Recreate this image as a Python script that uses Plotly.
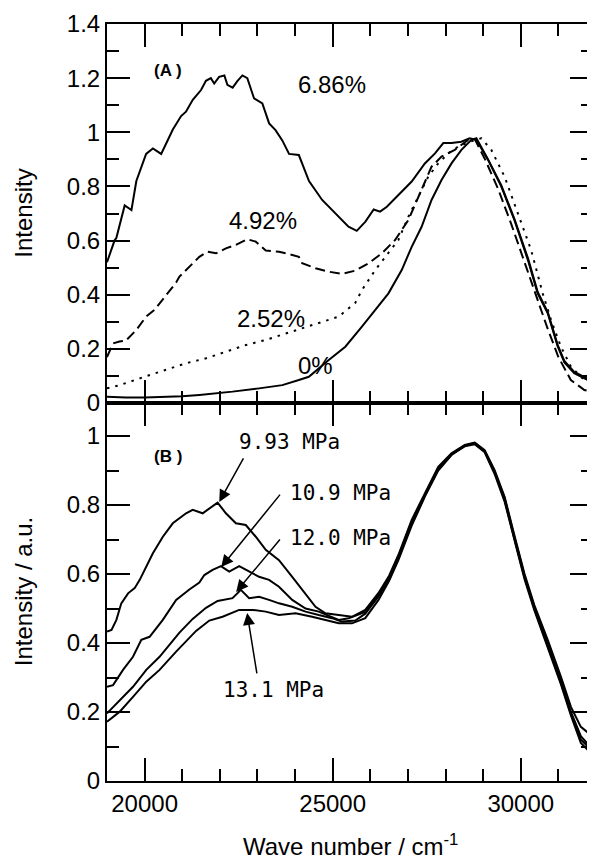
import plotly.graph_objects as go

# (A) concentration series, wave number in cm-1
x_686 = [19000, 19200, 19250, 19470, 19650, 19780, 20040, 20220, 20440, 20750, 20970, 21100, 21280, 21500,
         21630, 21760, 21850, 21980, 22120, 22200, 22340, 22470, 22600, 22730, 22910, 23130, 23310, 23480,
         23660, 23840, 24100, 24370, 24720, 25070, 25420, 25640, 25870, 26090, 26260, 26440, 26750, 27100,
         27450, 27720, 27940, 28160, 28420, 28640, 28820, 29130, 29480, 29830, 30190, 30450, 30720, 30980,
         31160, 31420, 31920]
y_686 = [0.52, 0.60, 0.61, 0.73, 0.713, 0.82, 0.92, 0.94, 0.92, 1.01, 1.06, 1.076, 1.12, 1.156,
         1.19, 1.2, 1.18, 1.205, 1.21, 1.175, 1.165, 1.19, 1.21, 1.2, 1.125, 1.107, 1.033, 1.008,
         0.97, 0.92, 0.916, 0.82, 0.75, 0.70, 0.651, 0.636, 0.67, 0.715, 0.707, 0.725, 0.768, 0.818,
         0.885, 0.922, 0.96, 0.96, 0.965, 0.978, 0.972, 0.898, 0.80, 0.676, 0.528, 0.405, 0.33, 0.21,
         0.15, 0.11, 0.075]

x_492 = [19000, 19160, 19330, 19500, 19780, 20040, 20265, 20573, 20838, 20926, 21190, 21455, 21675, 21897,
         22161, 22426, 22733, 22955, 23220, 23572, 23837, 24101, 24189, 24543, 24895, 25247, 25600, 25953,
         26306, 26658, 27012, 27364, 27628, 27893, 28246, 28600, 28776, 29050, 29400, 29750, 30100, 30400,
         30700, 31000, 31330, 31690, 31920]
y_492 = [0.17, 0.22, 0.227, 0.23, 0.27, 0.319, 0.344, 0.40, 0.445, 0.467, 0.504, 0.54, 0.559, 0.553,
         0.571, 0.584, 0.605, 0.596, 0.563, 0.559, 0.55, 0.54, 0.516, 0.498, 0.485, 0.477, 0.489, 0.516,
         0.553, 0.602, 0.676, 0.787, 0.873, 0.91, 0.935, 0.972, 0.975, 0.90, 0.79, 0.66, 0.52, 0.40,
         0.28, 0.17, 0.085, 0.048, 0.04]

x_252 = [19000, 19340, 20000, 20573, 21102, 21632, 22161, 22690, 23220, 23749, 24101, 24543, 25159, 25600,
         25777, 26130, 26482, 26746, 27012, 27276, 27540, 27805, 28069, 28334, 28644, 28951, 29216, 29570,
         29922, 30275, 30583, 30803, 31068, 31332, 31687, 31920]
y_252 = [0.054, 0.066, 0.097, 0.122, 0.147, 0.165, 0.19, 0.214, 0.233, 0.257, 0.272, 0.294, 0.319, 0.37,
         0.417, 0.491, 0.553, 0.602, 0.688, 0.762, 0.836, 0.885, 0.922, 0.947, 0.965, 0.978, 0.935, 0.836,
         0.70, 0.565, 0.405, 0.307, 0.208, 0.134, 0.085, 0.073]

x_0 = [19000, 19500, 20000, 20500, 21000, 21455, 21900, 22337, 23043, 23660, 24101, 24366, 24895, 25336,
       25777, 26130, 26482, 26835, 27100, 27364, 27628, 27893, 28158, 28422, 28687, 28820, 29130, 29480,
       29830, 30190, 30450, 30720, 30980, 31160, 31420, 31920]
y_0 = [0.023, 0.02, 0.02, 0.022, 0.025, 0.03, 0.035, 0.042, 0.054, 0.066, 0.085, 0.097, 0.159, 0.208,
       0.282, 0.344, 0.405, 0.491, 0.577, 0.651, 0.75, 0.824, 0.885, 0.935, 0.972, 0.978, 0.90, 0.805,
       0.68, 0.535, 0.41, 0.335, 0.215, 0.155, 0.115, 0.08]

# (B) pressure series
x_993 = [19000, 19120, 19250, 19380, 19560, 19735, 19870, 20040, 20220, 20485, 20749, 21102, 21278, 21543,
         21808, 21940, 22161, 22426, 22690, 22955, 23220, 23572, 23924, 24279, 24543, 24808, 25160, 25512,
         25866, 26218, 26500, 26746, 27100, 27453, 27805, 28158, 28510, 28776, 29040, 29305, 29570, 29835,
         30100, 30360, 30716, 31068, 31333, 31597, 31920]
y_993 = [0.433, 0.438, 0.467, 0.515, 0.544, 0.559, 0.583, 0.62, 0.66, 0.708, 0.747, 0.776, 0.786, 0.776,
         0.795, 0.807, 0.776, 0.747, 0.742, 0.708, 0.67, 0.64, 0.592, 0.544, 0.505, 0.486, 0.481, 0.476,
         0.496, 0.545, 0.595, 0.655, 0.757, 0.834, 0.911, 0.95, 0.974, 0.981, 0.959, 0.901, 0.824, 0.71,
         0.60, 0.51, 0.409, 0.302, 0.215, 0.157, 0.128]

x_109 = [19000, 19161, 19426, 19691, 19912, 20132, 20484, 20838, 21190, 21455, 21588, 21807, 22029, 22249,
         22514, 22778, 23043, 23308, 23572, 23924, 24279, 24630, 24895, 25160, 25424, 25866, 26218, 26500,
         26746, 27100, 27453, 27805, 28158, 28510, 28776, 29040, 29305, 29570, 29835, 30100, 30360, 30716,
         31068, 31333, 31597, 31920]
y_109 = [0.273, 0.278, 0.322, 0.36, 0.409, 0.418, 0.467, 0.525, 0.555, 0.575, 0.597, 0.612, 0.623, 0.607,
         0.623, 0.607, 0.592, 0.583, 0.563, 0.525, 0.50, 0.491, 0.478, 0.467, 0.472, 0.49, 0.54, 0.59,
         0.65, 0.75, 0.83, 0.905, 0.948, 0.972, 0.978, 0.955, 0.895, 0.815, 0.70, 0.59, 0.50, 0.395,
         0.285, 0.195, 0.12, 0.085]

x_120 = [19000, 19339, 19691, 20044, 20397, 20926, 21278, 21632, 21940, 22337, 22558, 22778, 23043, 23308,
         23572, 23924, 24279, 24630, 24983, 25247, 25600, 25866, 26218, 26500, 26746, 27100, 27453, 27805,
         28158, 28510, 28776, 29040, 29305, 29570, 29835, 30100, 30360, 30716, 31068, 31333, 31597, 31920]
y_120 = [0.196, 0.235, 0.273, 0.322, 0.36, 0.43, 0.47, 0.502, 0.522, 0.53, 0.554, 0.53, 0.534, 0.525,
         0.515, 0.505, 0.491, 0.481, 0.472, 0.462, 0.465, 0.485, 0.535, 0.585, 0.645, 0.745, 0.828, 0.903,
         0.946, 0.97, 0.976, 0.953, 0.89, 0.81, 0.695, 0.585, 0.495, 0.39, 0.28, 0.19, 0.11, 0.075]

x_131 = [19000, 19339, 19691, 20044, 20397, 20838, 21368, 21720, 22072, 22514, 22866, 23220, 23572, 24014,
         24453, 24808, 25160, 25512, 25866, 26218, 26500, 26746, 27100, 27453, 27805, 28158, 28510, 28776,
         29040, 29305, 29570, 29835, 30100, 30360, 30716, 31068, 31333, 31597, 31920]
y_131 = [0.172, 0.201, 0.244, 0.288, 0.322, 0.375, 0.435, 0.465, 0.476, 0.496, 0.496, 0.491, 0.481, 0.486,
         0.476, 0.467, 0.457, 0.457, 0.472, 0.525, 0.58, 0.64, 0.74, 0.825, 0.9, 0.945, 0.972, 0.98,
         0.957, 0.895, 0.82, 0.705, 0.595, 0.505, 0.40, 0.29, 0.2, 0.13, 0.09]

x_ticks = [20000, 25000, 30000]
x_ticktext = ["20000", "25000", "30000"]

FONT = "Liberation Sans, Arial, Helvetica, sans-serif"
MONO = "DejaVu Sans Mono, monospace"

fig = go.Figure()

line = dict(color="black", width=2)
# top panel: xaxis2 / yaxis2
fig.add_trace(go.Scatter(x=x_686, y=y_686, mode="lines", line=line, xaxis="x2", yaxis="y2"))
fig.add_trace(go.Scatter(x=x_492, y=y_492, mode="lines", line=dict(color="black", width=2, dash="10px,5px"),
                         xaxis="x2", yaxis="y2"))
fig.add_trace(go.Scatter(x=x_252, y=y_252, mode="lines", line=dict(color="black", width=2, dash="2.5px,6px"),
                         xaxis="x2", yaxis="y2"))
fig.add_trace(go.Scatter(x=x_0, y=y_0, mode="lines", line=line, xaxis="x2", yaxis="y2"))
# bottom panel: xaxis / yaxis
for xs, ys in [(x_993, y_993), (x_109, y_109), (x_120, y_120), (x_131, y_131)]:
    fig.add_trace(go.Scatter(x=xs, y=ys, mode="lines", line=line, xaxis="x", yaxis="y"))

# empty traces carrying the tick-only overlay axes (their mirrored ticks land on the left / bottom)
for xa, ya in [("x3", "y3"), ("x4", "y4"), ("x5", "y5"), ("x6", "y6")]:
    fig.add_trace(go.Scatter(x=[], y=[], xaxis=xa, yaxis=ya, hoverinfo="skip"))

split = 378 / 757
XR = [19000, 31920]
YR_TOP = [0, 1.4]
YR_BOT = [0, 1.0957]

main = dict(ticks="inside", ticklen=23, tickwidth=2, tickcolor="black", showline=True, linecolor="black",
            linewidth=2, mirror="ticks")


def tick_axis(rng, dtick, length, over, anchor, side, dom):
    return dict(range=rng, dtick=dtick, ticks="inside", ticklen=length, tickwidth=2, tickcolor="black",
                showline=False, mirror="ticks", showticklabels=False, overlaying=over, anchor=anchor,
                side=side, domain=dom)


fig.update_layout(
    template="simple_white",
    # bottom panel
    xaxis=dict(range=XR, tickmode="array", tickvals=x_ticks, ticktext=x_ticktext, anchor="y", domain=[0, 1],
               **main),
    yaxis=dict(range=YR_BOT, dtick=0.2, anchor="x", domain=[0, split], **main),
    # top panel
    xaxis2=dict(range=XR, dtick=5000, showticklabels=False, anchor="y2", domain=[0, 1], **main),
    yaxis2=dict(range=YR_TOP, dtick=0.2, anchor="x2", domain=[split, 1], **main),
    # tick-only overlays: major and minor
    xaxis3=tick_axis(XR, 5000, 23, "x2", "y2", "top", [0, 1]),
    yaxis3=tick_axis(YR_TOP, 0.2, 23, "y2", "x2", "right", [split, 1]),
    xaxis4=tick_axis(XR, 1000, 12, "x2", "y2", "top", [0, 1]),
    yaxis4=tick_axis(YR_TOP, 0.1, 12, "y2", "x2", "right", [split, 1]),
    xaxis5=tick_axis(XR, 5000, 23, "x", "y", "top", [0, 1]),
    yaxis5=tick_axis(YR_BOT, 0.2, 23, "y", "x", "right", [0, split]),
    xaxis6=tick_axis(XR, 1000, 12, "x", "y", "top", [0, 1]),
    yaxis6=tick_axis(YR_BOT, 0.1, 12, "y", "x", "right", [0, split]),
    # page body has an 8px margin, so the figure is 8px smaller than the window
    width=587, height=852, margin=dict(l=99, r=0, t=16, b=79),
    showlegend=False,
    font=dict(family=FONT, size=24, color="black"),
)

title_font = dict(family=FONT, size=24, color="black")
# axis titles
fig.add_annotation(xref="paper", yref="paper", x=-0.172, y=0.75, text="Intensity", textangle=-90,
                   showarrow=False, font=title_font, xanchor="center", yanchor="middle")
fig.add_annotation(xref="paper", yref="paper", x=-0.172, y=0.25, text="Intensity / a.u.", textangle=-90,
                   showarrow=False, font=title_font, xanchor="center", yanchor="middle")
fig.add_annotation(xref="paper", yref="paper", x=0.5, y=-0.085, text="Wave number / cm<sup>-1</sup>",
                   showarrow=False, font=title_font, xanchor="center", yanchor="middle")

pct_font = dict(family=FONT, size=24, color="black")
for txt, xv, yv in [("6.86%", 24022, 1.175), ("4.92%", 22196, 0.676), ("2.52%", 22408, 0.314), ("0%", 24022, 0.14)]:
    fig.add_annotation(x=xv, y=yv, xref="x2", yref="y2", text=txt, showarrow=False, xanchor="left",
                       yanchor="middle", font=pct_font)

fig.add_annotation(x=20189, y=1.23, xref="x2", yref="y2", text="<b>(A )</b>", showarrow=False, xanchor="left",
                   yanchor="middle", font=dict(family=FONT, size=17, color="black"))
fig.add_annotation(x=20189, y=0.942, xref="x", yref="y", text="<b>(B )</b>", showarrow=False, xanchor="left",
                   yanchor="middle", font=dict(family=FONT, size=17, color="black"))

mpa_font = dict(family=MONO, size=21, color="black")
for txt, xv, yv in [("9.93 MPa", 22461, 0.983), ("10.9 MPa", 23810, 0.835),
                    ("12.0 MPa", 23810, 0.704), ("13.1 MPa", 22037, 0.264)]:
    fig.add_annotation(x=xv, y=yv, xref="x", yref="y", text=txt, showarrow=False, xanchor="left",
                       yanchor="middle", font=mpa_font)

# arrows: tip in data coords, tail offset in pixels
for xv, yv, ax, ay in [(21984, 0.809, 25, -45), (22037, 0.620, 60, -74),
                       (22434, 0.548, 45, -54), (22725, 0.487, 10, 62)]:
    fig.add_annotation(x=xv, y=yv, xref="x", yref="y", text="", showarrow=True, ax=ax, ay=ay,
                       arrowhead=2, arrowsize=1.6, arrowwidth=1.5, arrowcolor="black")

fig.write_html("out.html")
